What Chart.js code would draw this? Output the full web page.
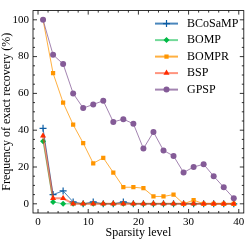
<!DOCTYPE html>
<html>
<head>
<meta charset="utf-8">
<script src="https://cdn.jsdelivr.net/npm/chart.js@4"></script>
<style>
  html, body { margin: 0; padding: 0; background: #fff; }
  #wrap { position: relative; width: 249px; height: 240px; }
</style>
</head>
<body>
<div id="wrap"><canvas id="chart"></canvas></div>
<script>
// sparsity levels on the x axis
const sparsity = [1, 3, 5, 7, 9, 11, 13, 15, 17, 19, 21, 23, 25, 27, 29, 31, 33, 35, 37, 39];

// frequency of exact recovery (%)
const bcosamp = [41, 5, 7, 1, 0, 1, 0, 0, 1, 0, 0, 0, 0, 0, 0, 0, 0, 0, 0, 0];
const bomp    = [34, 1, 0, 0, 0, 0, 0, 0, 0, 0, 0, 0, 0, 0, 0, 0, 0, 0, 0, 0];
const bompr   = [100, 71, 55, 43, 33, 22, 25, 17, 9, 9, 8.5, 4, 4, 5, 0, 2, 0, 0, 0, 0];
const bsp     = [37, 3, 3, 0, 0, 0, 0, 0, 0, 0, 0, 0, 0, 0, 0, 0, 0, 0, 0, 0];
const gpsp    = [100, 81, 76, 60, 52, 54, 56, 44.5, 46, 43.5, 30, 39, 29, 26, 17, 20, 21.5, 15, 9, 3];

const xTicks = [0, 10, 20, 30, 40];
const yTicks = [0, 20, 40, 60, 80, 100];

const serif = "'Liberation Serif', 'DejaVu Serif', serif";

const series = [
    { label: 'BCoSaMP', data: bcosamp, color: '#0C5DA5', line: 'rgba(12,93,165,0.75)', style: 'cross', r: 3.5 },
    { label: 'BOMP',    data: bomp,    color: '#00B945', line: 'rgba(0,185,69,0.55)',  style: 'rectRot', r: 3 },
    { label: 'BOMPR',   data: bompr,   color: '#FF9500', line: 'rgba(255,149,0,0.75)', style: 'rect', r: 3 },
    { label: 'BSP',     data: bsp,     color: '#FF2C00', line: 'rgba(255,44,0,0.5)',   style: 'triangle', r: 3.5 },
    { label: 'GPSP',    data: gpsp,    color: '#845B97', line: 'rgba(132,91,151,0.75)', style: 'circle', r: 3 }
];

const datasets = series.map((s, i) => ({
    label: s.label,
    data: s.data.map((v, j) => ({ x: sparsity[j], y: v })),
    borderColor: s.line,
    backgroundColor: s.color,
    pointBorderColor: s.color,
    pointBackgroundColor: s.color,
    pointStyle: s.style,
    pointRadius: s.r,
    pointBorderWidth: s.style === 'cross' ? 1.2 : 0,
    borderWidth: s.label === 'BSP' ? 2 : 1,
    order: series.length - i
}));

// inward ticks on all four sides, plus frame
const frameTicks = {
    id: 'frameTicks',
    afterDraw(chart) {
        const { ctx, chartArea: a, scales: { x, y } } = chart;
        ctx.save();
        ctx.strokeStyle = '#000';
        ctx.lineWidth = 0.8;
        ctx.strokeRect(a.left, a.top, a.right - a.left, a.bottom - a.top);
        ctx.beginPath();
        for (let v = 0; v <= 40; v += 2) {
            const px = x.getPixelForValue(v);
            const len = v % 10 === 0 ? 4 : 2;
            ctx.moveTo(px, a.bottom); ctx.lineTo(px, a.bottom - len);
            ctx.moveTo(px, a.top); ctx.lineTo(px, a.top + len);
        }
        for (let v = 0; v <= 100; v += 5) {
            const py = y.getPixelForValue(v);
            const len = v % 20 === 0 ? 4 : 2;
            ctx.moveTo(a.left, py); ctx.lineTo(a.left + len, py);
            ctx.moveTo(a.right, py); ctx.lineTo(a.right - len, py);
        }
        ctx.stroke();
        ctx.restore();
    }
};

// legend drawn inside the plot, top right
const innerLegend = {
    id: 'innerLegend',
    afterDraw(chart) {
        const { ctx, chartArea: a } = chart;
        ctx.save();
        ctx.font = '12px ' + serif;
        ctx.textBaseline = 'middle';
        chart.data.datasets.forEach((ds, i) => {
            const yy = a.top + 13 + i * 16.5;
            const x0 = a.left + 122;
            ctx.strokeStyle = ds.borderColor;
            ctx.lineWidth = 2;
            ctx.beginPath();
            ctx.moveTo(x0, yy); ctx.lineTo(x0 + 23, yy);
            ctx.stroke();
            ctx.fillStyle = ds.pointBackgroundColor;
            ctx.strokeStyle = ds.pointBorderColor;
            ctx.lineWidth = ds.pointBorderWidth || 0;
            Chart.helpers.drawPoint(ctx, {
                pointStyle: ds.pointStyle,
                radius: ds.pointRadius,
                borderWidth: ds.pointBorderWidth || 0,
                rotation: 0
            }, x0 + 11.5, yy);
            ctx.fillStyle = '#000';
            ctx.fillText(ds.label, x0 + 32, yy);
        });
        ctx.restore();
    }
};

new Chart(document.getElementById('chart'), {
    type: 'line',
    data: { datasets },
    options: {
        responsive: true,
        maintainAspectRatio: false,
        animation: false,
        layout: { padding: { top: 3, right: 3, left: 0, bottom: 0 } },
        plugins: { legend: { display: false }, tooltip: { enabled: false } },
        elements: { line: { tension: 0 } },
        scales: {
            x: {
                type: 'linear',
                min: -1,
                max: 41,
                afterBuildTicks: s => { s.ticks = xTicks.map(v => ({ value: v })); },
                afterFit: s => { s.height = 27; },
                grid: { display: false, drawTicks: false },
                border: { display: false },
                ticks: { color: '#000', padding: 3, maxRotation: 0, font: { family: serif, size: 11 } },
                title: { display: true, text: 'Sparsity level', color: '#000', padding: 0, font: { family: serif, size: 12 } }
            },
            y: {
                min: -5,
                max: 105,
                afterBuildTicks: s => { s.ticks = yTicks.map(v => ({ value: v })); },
                afterFit: s => { s.width = 33; },
                grid: { display: false, drawTicks: false },
                border: { display: false },
                ticks: { color: '#000', padding: 4, font: { family: serif, size: 11 } },
                title: { display: true, text: 'Frequency of exact recovery (%)', color: '#000', padding: 0, font: { family: serif, size: 12 } }
            }
        }
    },
    plugins: [frameTicks, innerLegend]
});
</script>
</body>
</html>
